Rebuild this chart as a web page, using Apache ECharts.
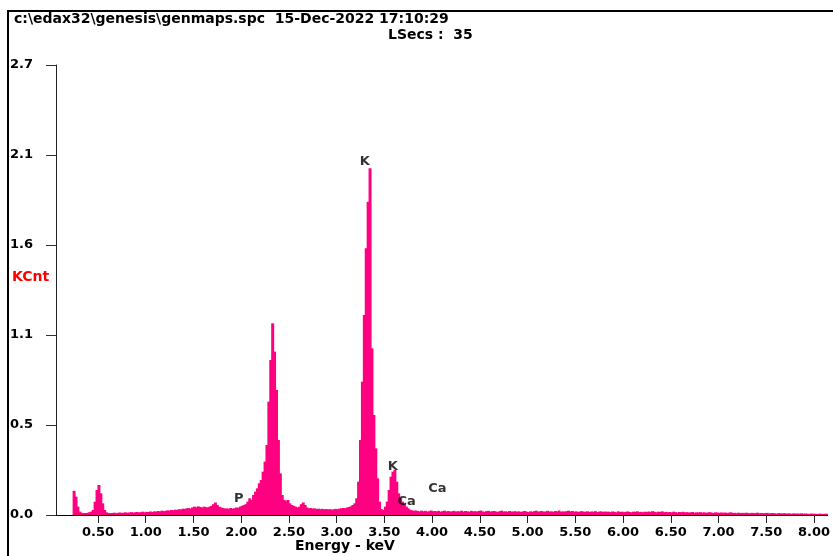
<!DOCTYPE html>
<html><head><meta charset="utf-8">
<script src="https://cdn.jsdelivr.net/npm/echarts@6/dist/echarts.min.js"></script>
<style>html,body{margin:0;padding:0;background:#fff}#c{width:833px;height:556px}</style>
</head><body><div id="c"></div>
<script>
// Spectrum: channel centres start at START_KEV, spaced STEP_KEV apart
const START_KEV = 0.25;
const STEP_KEV = 0.02;
const counts = [
  0.145,0.11,0.05,0.02,0.013,0.011,0.012,0.013,0.016,0.02,
  0.03,0.08,0.15,0.18,0.13,0.07,0.03,0.016,0.012,0.011,
  0.012,0.014,0.011,0.013,0.015,0.012,0.014,0.016,0.013,0.015,
  0.017,0.014,0.016,0.018,0.015,0.017,0.02,0.016,0.019,0.018,
  0.021,0.018,0.022,0.02,0.024,0.021,0.026,0.023,0.025,0.028,
  0.026,0.03,0.028,0.032,0.03,0.035,0.033,0.038,0.036,0.04,
  0.042,0.038,0.045,0.05,0.046,0.052,0.048,0.044,0.05,0.047,
  0.045,0.05,0.055,0.065,0.075,0.06,0.05,0.045,0.042,0.038,
  0.04,0.036,0.042,0.038,0.04,0.045,0.043,0.05,0.055,0.06,
  0.065,0.08,0.1,0.09,0.12,0.14,0.16,0.19,0.21,0.26,
  0.32,0.42,0.68,0.93,1.15,0.98,0.75,0.45,0.25,0.12,
  0.09,0.085,0.09,0.07,0.06,0.055,0.05,0.045,0.05,0.065,
  0.075,0.06,0.045,0.04,0.042,0.038,0.04,0.036,0.038,0.035,
  0.037,0.034,0.036,0.033,0.035,0.032,0.034,0.037,0.035,0.038,
  0.04,0.042,0.04,0.045,0.048,0.052,0.06,0.07,0.1,0.2,
  0.45,0.8,1.2,1.6,1.88,2.08,1.0,0.6,0.4,0.22,
  0.08,0.035,0.03,0.05,0.08,0.15,0.23,0.26,0.27,0.2,
  0.13,0.1,0.08,0.065,0.05,0.04,0.032,0.028,0.025,0.027,
  0.024,0.021,0.026,0.022,0.025,0.02,0.023,0.027,0.022,0.024,
  0.021,0.025,0.019,0.023,0.026,0.021,0.024,0.02,0.022,0.025,
  0.019,0.023,0.021,0.026,0.02,0.024,0.022,0.019,0.025,0.021,
  0.023,0.02,0.024,0.027,0.021,0.019,0.023,0.025,0.02,0.022,
  0.024,0.021,0.018,0.023,0.026,0.02,0.022,0.019,0.024,0.021,
  0.02,0.023,0.019,0.022,0.018,0.021,0.024,0.02,0.017,0.022,
  0.019,0.023,0.026,0.02,0.022,0.024,0.019,0.021,0.025,0.02,
  0.022,0.018,0.024,0.021,0.027,0.019,0.022,0.02,0.023,0.026,
  0.021,0.024,0.019,0.022,0.018,0.021,0.023,0.019,0.02,0.022,
  0.018,0.021,0.019,0.023,0.017,0.02,0.022,0.018,0.021,0.019,
  0.02,0.017,0.021,0.019,0.016,0.022,0.018,0.02,0.017,0.019,
  0.021,0.018,0.016,0.02,0.019,0.022,0.017,0.019,0.016,0.02,
  0.018,0.021,0.017,0.023,0.019,0.016,0.02,0.018,0.022,0.017,
  0.019,0.016,0.018,0.015,0.02,0.017,0.014,0.018,0.016,0.019,
  0.015,0.017,0.014,0.016,0.018,0.013,0.016,0.015,0.017,0.014,
  0.016,0.013,0.015,0.017,0.014,0.012,0.016,0.014,0.013,0.015,
  0.013,0.015,0.012,0.014,0.016,0.012,0.013,0.011,0.014,0.012,
  0.013,0.011,0.014,0.012,0.01,0.013,0.011,0.012,0.014,0.01,
  0.012,0.01,0.011,0.013,0.009,0.011,0.012,0.01,0.008,0.011,
  0.01,0.009,0.011,0.008,0.01,0.009,0.007,0.01,0.008,0.009,
  0.008,0.01,0.007,0.009,0.008,0.006,0.009,0.007,0.008,0.006,
  0.007,0.008,0.006,0.007,0.008
];
const xTickValues = [0.5,1,1.5,2,2.5,3,3.5,4,4.5,5,5.5,6,6.5,7,7.5,8];
const yTickValues = [0,0.54,1.08,1.62,2.16,2.7];
const yTickLabels = ['0.0','0.5','1.1','1.6','2.1','2.7'];
const peakNames = ['P','K','K','Ca','Ca'];
const peakEnergies = [1.975,3.296,3.587,3.733,4.055];
const peakLabelHeights = [0.10,2.118,0.288,0.078,0.156];
const titleText = 'c:\\edax32\\genesis\\genmaps.spc  15-Dec-2022 17:10:29';
const lsecsText = 'LSecs :  35';
const yName = 'KCnt';
const xName = 'Energy - keV';

const FONT = 'DejaVu Sans';
const PINK = '#FF0080';
const spectrum = counts.map((v, i) => [+(START_KEV + i * STEP_KEV).toFixed(3), v]);
const peakPoints = peakNames.map((n, i) => ({ name: n, value: [peakEnergies[i], peakLabelHeights[i]] }));

const chart = echarts.init(document.getElementById('c'), null, { renderer: 'canvas' });
chart.setOption({
  animation: false,
  backgroundColor: '#fff',
  grid: { left: 56, right: 0, top: 65, bottom: 41, containLabel: false },
  xAxis: {
    type: 'value', min: 0.0603, max: 8.143,
    splitLine: { show: false },
    axisLine: { show: true, onZero: false, lineStyle: { color: '#000', width: 1 } },
    axisTick: { show: true, length: 8, customValues: xTickValues, lineStyle: { color: '#222' } },
    axisLabel: {
      customValues: xTickValues, margin: 11,
      formatter: v => v.toFixed(2),
      color: '#000', fontFamily: FONT, fontWeight: 'bold', fontSize: 13
    }
  },
  yAxis: {
    type: 'value', min: 0, max: 2.7,
    splitLine: { show: false },
    axisLine: { show: true, lineStyle: { color: '#222', width: 1 } },
    axisTick: { show: true, length: 10, customValues: yTickValues, lineStyle: { color: '#333' } },
    axisLabel: {
      customValues: yTickValues, align: 'left', margin: 46,
      formatter: v => {
        let best = 0;
        yTickValues.forEach((t, i) => { if (Math.abs(t - v) < Math.abs(yTickValues[best] - v)) best = i; });
        return yTickLabels[best];
      },
      color: '#000', fontFamily: FONT, fontWeight: 'bold', fontSize: 13
    }
  },
  series: [
    {
      type: 'bar', data: spectrum, barWidth: 3,
      itemStyle: { color: PINK },
      silent: true, z: 2
    },
    {
      type: 'scatter', data: peakPoints, symbol: 'circle', symbolSize: 1,
      itemStyle: { color: 'transparent' },
      label: {
        show: true, position: 'inside', formatter: p => p.name,
        color: '#000', textBorderWidth: 0, fontFamily: FONT, fontWeight: 'bold', fontSize: 13
      },
      silent: true, z: 3
    }
  ],
  graphic: [
    { type: 'line', shape: { x1: 8, y1: 10, x2: 8, y2: 556 }, style: { stroke: '#000', lineWidth: 2 } },
    { type: 'line', shape: { x1: 7, y1: 11, x2: 833, y2: 11 }, style: { stroke: '#000', lineWidth: 2 } },
    { type: 'text', style: { x: 14, y: 12, text: titleText, font: 'bold 14px "DejaVu Sans"', fill: '#000' } },
    { type: 'text', style: { x: 388, y: 28, text: lsecsText, font: 'bold 14px "DejaVu Sans"', fill: '#000' } },
    { type: 'text', style: { x: 12, y: 270, text: yName, font: 'bold 14px "DejaVu Sans"', fill: '#FF0000' } },
    { type: 'text', style: { x: 295, y: 539, text: xName, font: 'bold 14px "DejaVu Sans"', fill: '#000' } }
  ]
});
</script>
</body></html>
